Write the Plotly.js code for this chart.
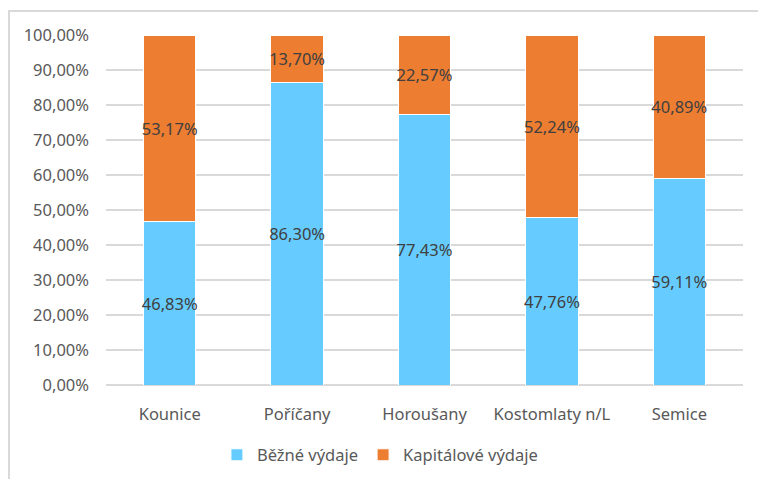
<!DOCTYPE html>
<html>
<head>
<meta charset="utf-8">
<script src="https://cdn.plot.ly/plotly-3.0.1.min.js"></script>
<style>
html,body{margin:0;padding:0;background:#fff;}
#frame{position:absolute;left:8px;top:10px;width:760px;height:480px;border-top:2px solid #d9d9d9;border-left:2px solid #d9d9d9;pointer-events:none;}
#chart{position:absolute;left:0;top:0;width:758px;height:479px;}
</style>
</head>
<body>
<div id="chart"></div>
<div id="frame"></div>
<script>
const categories = ["Kounice", "Poříčany", "Horoušany", "Kostomlaty n/L", "Semice"];
const bezneVydaje = [46.83, 86.30, 77.43, 47.76, 59.11];
const kapitaloveVydaje = [53.17, 13.70, 22.57, 52.24, 40.89];
const seriesNames = ["Běžné výdaje", "Kapitálové výdaje"];

const fmt = v => v.toFixed(2).replace('.', ',') + '%';
const fontFam = "Noto Sans, sans-serif";
const fs = 16.5;

const common = {
  type: 'bar',
  x: categories,
  textposition: 'inside',
  insidetextanchor: 'middle',
  textangle: 0,
  textfont: {family: fontFam, size: fs, color: '#404040'},
  hoverinfo: 'skip',
  constraintext: 'none'
};

const traces = [
  Object.assign({}, common, {
    name: seriesNames[0], y: bezneVydaje, text: bezneVydaje.map(fmt),
    marker: {color: '#66CCFF', line: {color: '#ffffff', width: 1}}
  }),
  Object.assign({}, common, {
    name: seriesNames[1], y: kapitaloveVydaje, text: kapitaloveVydaje.map(fmt),
    marker: {color: '#ED7D31', line: {color: '#ffffff', width: 1}}
  })
];

const layout = {
  width: 758, height: 479,
  margin: {l: 106, r: 15, t: 35, b: 94, autoexpand: false},
  barmode: 'stack',
  bargap: 0.59,
  separators: ', ',
  paper_bgcolor: '#ffffff',
  plot_bgcolor: '#ffffff',
  font: {family: fontFam, size: fs, color: '#595959'},
  showlegend: true,
  legend: {
    orientation: 'h', x: 0.43, xanchor: 'center',
    yref: 'container', y: 0.05, yanchor: 'middle',
    font: {family: fontFam, size: fs, color: '#595959'},
    itemwidth: 30, traceorder: 'normal'
  },
  xaxis: {
    type: 'category',
    showgrid: false, zeroline: false, showline: false,
    ticks: '', ticklabelstandoff: 17,
    tickfont: {family: fontFam, size: fs, color: '#595959'}
  },
  yaxis: {
    range: [0, 100], dtick: 10, tick0: 0,
    tickformat: '.2f', ticksuffix: '%',
    showgrid: true, gridcolor: '#d9d9d9', gridwidth: 1.5,
    zeroline: true, zerolinecolor: '#d9d9d9', zerolinewidth: 1.5,
    showline: false, ticks: '', ticklabelstandoff: 16,
    tickfont: {family: fontFam, size: fs, color: '#595959'}
  }
};

Plotly.newPlot('chart', traces, layout, {displayModeBar: false, staticPlot: true});
</script>
</body>
</html>
